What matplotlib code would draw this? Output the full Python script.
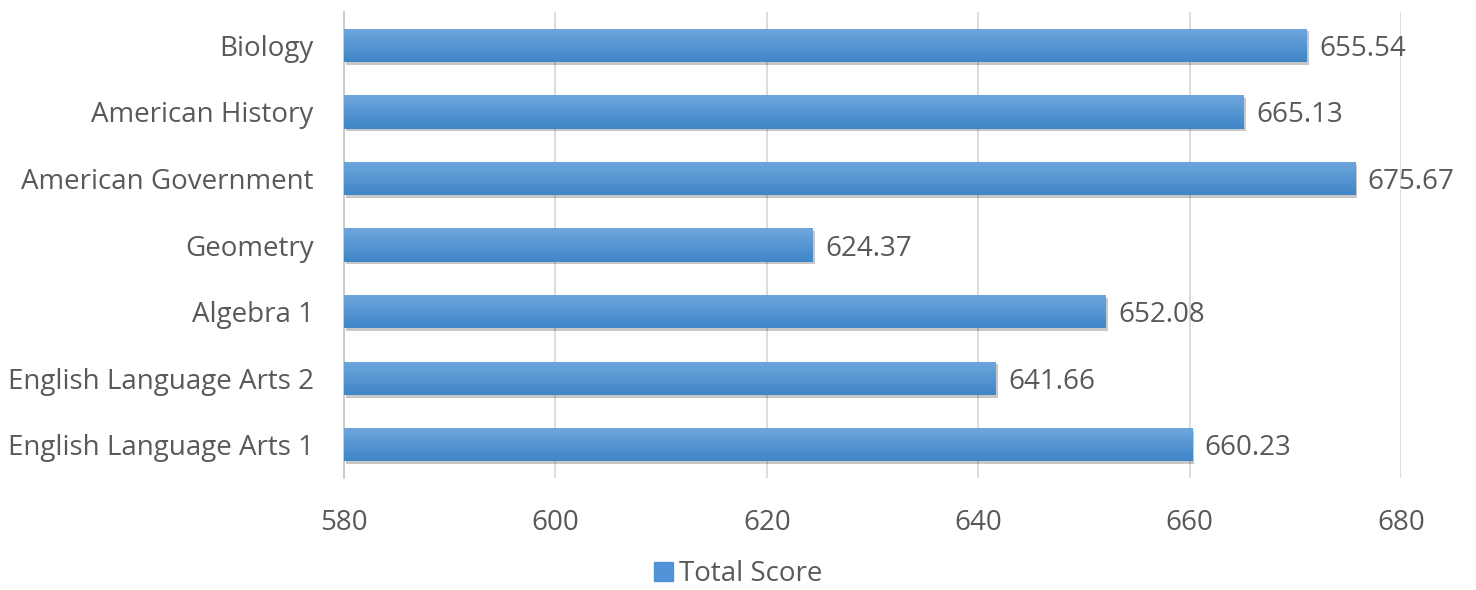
import numpy as np
import matplotlib
matplotlib.use("Agg")
import matplotlib.pyplot as plt
import matplotlib.patheffects as pe
from matplotlib.colors import LinearSegmentedColormap

subjects = ["English Language Arts 1", "English Language Arts 2", "Algebra 1",
            "Geometry", "American Government", "American History", "Biology"]
# bar lengths as drawn; the printed labels differ for Biology in the source chart
bar_values = [660.23, 641.66, 652.08, 624.37, 675.67, 665.13, 671.1]
value_labels = ["660.23", "641.66", "652.08", "624.37", "675.67", "665.13", "655.54"]
x_ticks = [580, 600, 620, 640, 660, 680]
series_name = "Total Score"

text_color = "#595959"
grid_color = "#d9d9d9"
bar_top = "#6fa6dd"
bar_bottom = "#3f86c8"

plt.rcParams["font.family"] = ["Open Sans", "DejaVu Sans"]

fig = plt.figure(figsize=(14.76, 5.9), dpi=100)
ax = fig.add_axes([0.2331, 0.1898, 0.7161, 0.7898])

y = np.arange(len(subjects))
bars = ax.barh(y, np.array(bar_values) - x_ticks[0], left=x_ticks[0], height=0.5,
               color="#5193d6", zorder=3)

# gradient fill over each bar + soft shadow
cmap = LinearSegmentedColormap.from_list("bar", [bar_bottom, bar_top])
grad = np.linspace(0, 1, 64).reshape(-1, 1)
for b in bars:
    b.set_path_effects([pe.SimplePatchShadow(offset=(1.5, -2), alpha=0.22, shadow_rgbFace="#000000"),
                        pe.Normal()])
    x0, y0, w, h = b.get_x(), b.get_y(), b.get_width(), b.get_height()
    im = ax.imshow(grad, cmap=cmap, aspect="auto", extent=(x0, x0 + w, y0, y0 + h),
                   origin="lower", zorder=4, interpolation="bicubic")
    im.set_clip_path(b)

for yi, v, lab in zip(y, bar_values, value_labels):
    ax.annotate(lab, xy=(v, yi), xytext=(9, 0), textcoords="offset points",
                va="center_baseline", ha="left", fontsize=20, color=text_color, zorder=5)

ax.set_xlim(x_ticks[0], x_ticks[-1])
ax.set_ylim(-0.5, len(subjects) - 0.5)
ax.set_xticks(x_ticks)
ax.set_yticks(y)
ax.set_yticklabels(subjects, va="center_baseline")
ax.tick_params(axis="both", length=0, labelsize=20, labelcolor=text_color)
ax.tick_params(axis="x", pad=22)
ax.tick_params(axis="y", pad=22)
ax.grid(axis="x", color=grid_color, linewidth=1.3, zorder=0)
for s in ["top", "right", "bottom"]:
    ax.spines[s].set_visible(False)
ax.spines["left"].set_color("#c8c8c8")
ax.spines["left"].set_linewidth(1.3)
ax.set_axisbelow(True)

handle = plt.Rectangle((0, 0), 1, 1, color="#5193d6")
fig.legend([handle], [series_name], loc="lower center", bbox_to_anchor=(0.5, 0.003),
           frameon=False, fontsize=20, labelcolor=text_color, handlelength=0.7,
           handleheight=0.7, handletextpad=0.2, borderpad=0, borderaxespad=0)

fig.savefig("out.png", dpi=100, facecolor="white")
